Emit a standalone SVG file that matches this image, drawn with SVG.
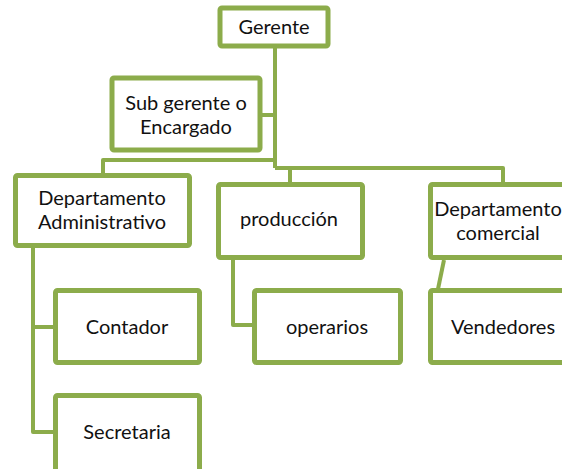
<svg xmlns="http://www.w3.org/2000/svg" width="562" height="469" viewBox="0 0 562 469">
  <style>
    .box { fill: #ffffff; stroke: #8cac4b; stroke-width: 5; }
    .link { fill: none; stroke: #8cac4b; stroke-width: 4; stroke-linejoin: round; }
    .lbl { font-family: Lato, "Liberation Sans", sans-serif; font-size: 20px; fill: #111111; text-anchor: middle; }
  </style>
  <rect width="562" height="469" fill="#ffffff"/>

  <!-- connectors -->
  <g id="connectors">
    <path class="link" d="M275,48 V168"/>
    <path class="link" d="M262,115 H275"/>
    <path class="link" d="M275,160 H103 V174"/>
    <path class="link" d="M275,168 H503 V182"/>
    <path class="link" d="M290,168 V182"/>
    <path class="link" d="M33,248 V432 H54"/>
    <path class="link" d="M33,327 H54"/>
    <path class="link" d="M233,260 V325 H253"/>
    <path class="link" d="M444,260 L438,289"/>
  </g>

  <g id="gerente">
    <rect class="box" x="220" y="8" width="108" height="38" rx="2"/>
    <text class="lbl" x="274" y="34">Gerente</text>
  </g>

  <g id="subgerente">
    <rect class="box" x="112" y="78" width="148" height="72" rx="2"/>
    <text class="lbl" x="186" y="110">Sub gerente o</text>
    <text class="lbl" x="186" y="134">Encargado</text>
  </g>

  <g id="dep-administrativo">
    <rect class="box" x="15.5" y="175.5" width="174" height="70" rx="2"/>
    <text class="lbl" x="102" y="205">Departamento</text>
    <text class="lbl" x="102" y="229">Administrativo</text>
  </g>

  <g id="produccion">
    <rect class="box" x="218.5" y="184.5" width="144" height="73" rx="2"/>
    <text class="lbl" x="289" y="226">producción</text>
  </g>

  <g id="dep-comercial">
    <rect class="box" x="430.5" y="184.5" width="148" height="73" rx="2"/>
    <text class="lbl" x="498" y="216">Departamento</text>
    <text class="lbl" x="498" y="240">comercial</text>
  </g>

  <g id="contador">
    <rect class="box" x="55.5" y="290.5" width="144" height="72" rx="2"/>
    <text class="lbl" x="127" y="334">Contador</text>
  </g>

  <g id="secretaria">
    <rect class="box" x="55.5" y="395.5" width="144" height="80" rx="2"/>
    <text class="lbl" x="127" y="439">Secretaria</text>
  </g>

  <g id="operarios">
    <rect class="box" x="254.5" y="290.5" width="146" height="72" rx="2"/>
    <text class="lbl" x="327" y="334">operarios</text>
  </g>

  <g id="vendedores">
    <rect class="box" x="430.5" y="290.5" width="148" height="72" rx="2"/>
    <text class="lbl" x="503" y="334">Vendedores</text>
  </g>
</svg>
